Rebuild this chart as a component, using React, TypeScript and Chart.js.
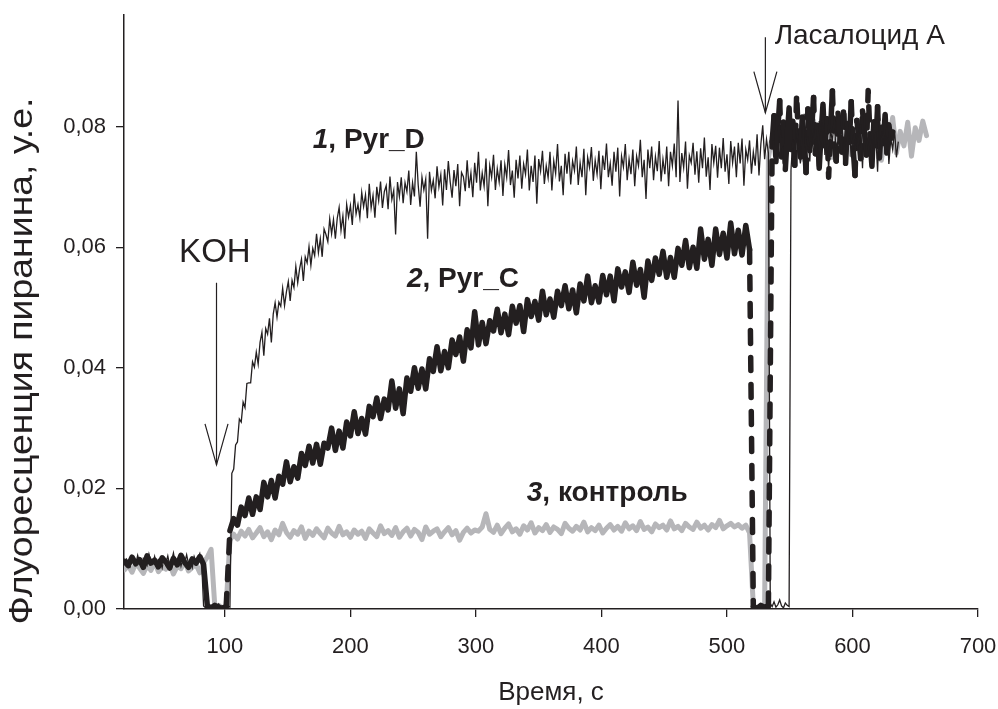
import React, { useEffect, useRef } from 'react';
import { Chart, registerables } from 'chart.js';

Chart.register(...registerables);

// ---------- data (fluorescence in units of 10^-3, time in s) ----------
// Each series is split into segments; a segment starts at STARTS[k] and is sampled every STEPS[k] s.

// 1, Pyr_D (thin line)
const PYR_D_STARTS = [20, 83, 105.5, 534.5, 551];
const PYR_D_STEPS = [1.5, 1.5, 1.5, 1.5, 1.5];
const PYR_D_BASE = [
  7.6, 8.3, 7.9, 7.1, 8.6, 8.0, 7.4, 8.9, 7.7, 6.9, 8.4, 8.1, 7.3, 9.1, 7.8, 7.5, 8.7, 7.0, 8.2, 7.9, 6.8, 8.5, 7.6, 8.8,
  7.2, 8.0, 9.3, 7.4, 7.9, 8.6, 7.1, 8.3, 7.7, 9.0, 7.5, 8.1, 6.9, 8.7, 7.8, 8.4, 9.2, 7.6,
];
const PYR_D_KOH = [0.5, 0.2, 0.7, 0.3, 0.1, 0.6, 0.4, 0.2, 0.8, 0.3, 0.5, 0.1, 0.6, 0.4, 0.3];
const PYR_D_RISE = [
  22.5, 23.2, 27.2, 27.7, 31.5, 31.0, 34.3, 33.4, 37.4, 37.5, 37.5, 41.0, 40.1, 42.6, 40.6, 44.2, 45.9, 42.0, 46.5, 45.6,
  48.2, 44.2, 48.9, 50.8, 48.4, 50.9, 50.2, 53.2, 50.3, 52.6, 54.3, 51.1, 54.5, 53.3, 56.8, 54.1, 56.4, 58.0, 54.4, 58.4,
  57.4, 60.1, 57.0, 59.8, 58.6, 62.2, 59.1, 61.4, 58.4, 63.0, 62.1, 60.9, 64.7, 62.2, 64.6, 61.4, 64.8, 66.6, 62.8, 65.2,
  61.4, 67.1, 65.0, 66.9, 63.7, 68.9, 65.5, 67.1, 64.9, 69.1, 66.7, 68.7, 64.8, 70.5, 66.5, 68.6, 64.9, 70.0, 67.7, 70.9,
  66.5, 69.2, 70.2, 66.3, 71.7, 67.9, 69.4, 62.1, 70.8, 68.4, 71.6, 67.3, 70.7, 69.2, 72.7, 67.0, 70.7, 68.4, 75.8, 70.3,
  66.7, 71.6, 69.5, 71.3, 61.4, 72.5, 69.4, 71.1, 68.1, 73.4, 70.0, 72.0, 66.9, 72.9, 69.5, 74.3, 70.8, 68.2, 72.8, 70.1,
  73.8, 66.8, 72.4, 71.7, 69.3, 74.4, 69.8, 72.3, 68.3, 74.0, 70.7, 75.8, 69.4, 72.3, 70.1, 74.7, 66.8, 73.5, 71.6, 75.3,
  69.5, 73.0, 70.8, 74.4, 68.5, 73.7, 71.6, 76.1, 70.3, 72.7, 68.2, 74.5, 71.4, 75.2, 69.7, 73.8, 72.1, 76.2, 69.4, 73.5,
  70.8, 75.2, 67.2, 74.6, 72.6, 76.0, 70.5, 73.5, 71.5, 75.8, 69.4, 74.3, 72.2, 77.1, 70.9, 73.5, 68.6, 75.5, 72.2, 75.8,
  70.4, 74.3, 72.7, 76.7, 70.3, 74.0, 71.6, 76.3, 68.6, 74.9, 73.2, 76.6, 71.0, 74.4, 72.1, 76.0, 69.6, 75.2, 72.8, 77.2,
  71.6, 73.9, 70.2, 75.8, 72.5, 76.5, 68.4, 75.1, 73.3, 77.1, 71.1, 74.6, 72.1, 76.2, 70.1, 75.1, 73.5, 77.8, 71.6, 74.5,
  68.0, 76.2, 73.1, 76.7, 71.1, 75.0, 72.6, 77.6, 70.9, 74.6, 72.1, 76.7, 70.1, 75.8, 73.5, 77.2, 71.6, 84.3, 70.8, 75.6,
  73.2, 77.5, 69.7, 75.2, 74.0, 77.3, 72.0, 75.9, 70.7, 76.4, 73.1, 78.2, 71.7, 74.9, 69.5, 77.1, 74.0, 76.8, 71.5, 76.5,
  73.1, 78.1, 72.5, 75.4, 70.5, 77.6, 74.0, 76.7, 71.6, 77.3, 73.9, 78.0, 70.2, 76.2, 74.5, 77.7, 72.2, 75.8, 73.5, 78.7,
  71.9, 77.1, 80.2, 74.6, 77.9, 75.6,
];
const PYR_D_LAS = [0.9, 0.4, 1.2, 0.3, 0.7, 1.5, 0.5, 0.2, 1.0, 0.6, 0.4];
const PYR_D_END = [
  72.8, 77.9, 75.1, 80.6, 76.3, 73.9, 79.8, 82.1, 75.6, 78.4, 74.2, 81.3, 77.0, 79.5, 73.4, 80.9, 76.7, 83.2, 75.3, 78.8,
  72.9, 79.6, 77.4, 81.7, 74.8, 78.1, 76.0, 82.5, 73.7, 79.2, 77.6, 80.4, 75.0, 78.6, 74.3, 81.0, 76.9, 79.9, 73.1, 82.8,
  75.8, 78.3, 76.4, 80.2, 74.6, 79.0, 72.5, 81.4, 77.2, 78.9, 75.4, 80.7, 73.8, 78.0, 76.2, 79.4, 74.9, 77.5,
];

// 2, Pyr_C (thick dashed line)
const PYR_C_STARTS = [20, 86, 104, 521, 536];
const PYR_C_STEPS = [3, 3, 3, 3, 1.5];
const PYR_C_BASE = [7.9, 7.2, 8.6, 7.5, 8.2, 6.9, 8.8, 7.6, 8.1, 7.0, 8.5, 7.8, 6.8, 8.4, 7.3, 8.9, 7.7, 6.9, 8.3, 7.6, 8.7, 7.4];
const PYR_C_KOH = [0.5, 0.2, 0.6, 0.3, 0.1, 0.4];
const PYR_C_RISE = [
  13.0,
  15.0, 13.9, 16.9, 15.5, 18.4, 15.7, 18.6, 16.5, 21.0, 18.6, 21.3, 18.4, 22.0, 20.7, 24.4, 21.1, 23.6, 21.7, 25.8, 23.8,
  27.0, 24.2, 27.3, 24.0, 27.5, 26.7, 30.0, 26.3, 29.5, 26.7, 31.0, 28.7, 32.7, 29.1, 31.6, 29.0, 33.6, 31.9, 35.0, 31.6,
  34.8, 33.0, 37.8, 33.3, 36.5, 32.4, 38.3, 36.1, 40.0, 36.6, 39.8, 36.5, 41.5, 39.4, 43.5, 39.5, 42.7, 40.0, 44.6, 42.2,
  45.1, 41.1, 46.3, 43.3, 49.3, 43.8, 47.5, 44.0, 47.8, 46.1, 49.7, 45.8, 48.9, 45.5, 50.2, 47.4, 50.3, 46.0, 51.3, 48.5,
  51.0, 47.9, 52.7, 48.8, 51.4, 48.4, 52.7, 50.3, 53.6, 49.8, 52.9, 49.1, 53.9, 51.1, 55.2, 50.8, 53.6, 50.9, 55.3, 52.1,
  55.2, 51.1, 56.4, 53.4, 55.9, 52.5, 57.5, 53.7, 56.3, 51.7, 57.7, 54.5, 58.2, 55.5, 59.3, 55.0, 58.3, 55.0, 59.8, 57.0,
  61.1, 56.6, 60.0, 56.5, 63.0, 58.0, 61.3, 57.0, 63.0, 58.8, 62.3, 58.2, 64.0, 58.9, 62.8, 58.7, 63.6, 59.6,
];
const PYR_C_LAS = [0.4, 0.1, 0.6, 0.3, 0.5];
const PYR_C_END = [
  77.5, 81.8, 74.2, 79.6, 84.3, 75.0, 80.7, 72.9, 78.4, 83.1, 76.2, 80.9, 73.6, 85.4, 77.8, 74.9, 81.6, 78.3, 72.4, 82.9,
  76.0, 79.7, 84.8, 75.5, 80.2, 73.1, 78.9, 83.7, 76.8, 81.3, 71.6, 79.4, 85.9, 77.1, 74.3, 82.2, 78.6, 75.8, 83.4, 73.9,
  80.5, 77.4, 84.1, 76.5, 71.9, 81.0, 78.1, 74.7, 82.6, 79.2, 75.3, 86.0, 77.9, 73.4, 80.8, 76.9, 83.3, 74.8, 79.9, 77.2,
  82.0, 75.6, 80.3, 78.0, 79.1,
];

// 3, контроль (thick grey line)
const CTRL_STARTS = [20, 92, 104, 521, 533];
const CTRL_STEPS = [3, 3, 3, 3, 3];
const CTRL_BASE = [6.5, 7.2, 6.1, 7.6, 6.8, 5.9, 7.3, 6.4, 7.8, 6.2, 7.0, 6.6, 7.5, 5.8, 7.1, 6.7, 7.9, 6.3, 6.9, 7.4, 6.0, 7.7, 8.6, 9.9];
const CTRL_KOH = [0.3, 0.6, 0.2, 0.5];
const CTRL_MID = [
  11.4,
  12.4, 11.6, 12.9, 12.1, 13.2, 11.8, 12.6, 13.5, 12.0, 12.8, 11.5, 13.1, 12.3, 14.2, 12.7, 11.9, 13.0, 12.4, 13.6, 11.7,
  12.9, 12.2, 13.3, 12.5, 11.8, 13.4, 12.6, 12.1, 13.7, 12.3, 12.8, 11.9,
  13.1, 12.4, 12.9, 11.7, 13.3, 12.6, 12.0, 13.8, 12.5, 13.0, 12.2, 13.5, 11.9, 12.8, 13.4, 12.1, 13.2, 12.7, 11.5, 13.6,
  12.4, 12.9, 13.3, 12.0, 12.8, 13.5, 12.3, 13.0, 11.4, 12.7, 13.4, 12.6, 13.1,
  12.9, 13.6, 15.8, 13.2, 12.7, 13.9, 12.5, 13.4, 14.1, 12.8, 13.3, 12.4, 13.8, 13.1, 14.3, 12.6, 13.5, 13.0, 14.0, 12.7,
  13.6, 13.2, 12.5, 14.2, 13.4, 12.9, 13.7, 13.1, 14.4, 12.8, 13.5, 13.0, 13.9, 12.6,
  13.4, 14.0, 13.1, 13.7, 12.9, 14.3, 13.3, 13.8, 13.0, 14.5, 13.2, 13.6, 12.8, 14.1, 13.5, 13.9, 13.1, 14.6, 13.3, 13.7,
  13.0, 14.2, 13.6, 13.2, 14.4, 13.4, 13.9, 13.1, 14.0, 13.5, 14.7, 13.3, 13.8, 14.2, 13.6, 14.0, 13.4, 13.9, 12.6,
];
const CTRL_LAS = [0.5, 0.2, 0.4, 0.3];
const CTRL_END = [
  74.8, 78.3, 76.1, 79.5, 75.4, 77.9, 80.2, 76.5, 78.8, 74.6, 79.1, 77.3, 81.0, 75.8, 78.4, 76.9, 79.7, 74.9, 77.6, 80.5,
  76.2, 78.9, 75.3, 79.4, 77.0, 81.3, 75.9, 78.1, 76.6, 80.0, 74.4, 78.6, 77.4, 81.5, 75.6, 79.2, 76.8, 80.7, 75.1, 79.8,
  77.7, 80.9, 78.5,
];

// axes
const X_MIN = 19.6;
const X_MAX = 700;
const X_TICKS = [100, 200, 300, 400, 500, 600, 700];
const Y_MIN = 0;
const Y_MAX = 98.5;
const Y_TICKS = [0, 20, 40, 60, 80];
const Y_TICK_LABELS = ['0,00', '0,02', '0,04', '0,06', '0,08'];
const X_TITLE = 'Время, с';
const Y_TITLE = 'Флуоресценция пиранина, у.е.';

// annotations (data coordinates)
const ARROWS = [
  { x: 93.3, top: 54.1, tip: 23.9 },
  { x: 530.6, top: 94.8, tip: 82.3 },
];
const PLAIN_LABELS = [
  { text: 'KOH', x: 92, y: 59.1, size: 33, align: 'center' },
  { text: 'Ласалоцид А', x: 538, y: 95.0, size: 28, align: 'left' },
];
const SERIES_LABELS = [
  { num: '1', rest: ', Pyr_D', x: 170, y: 77.8 },
  { num: '2', rest: ', Pyr_C', x: 245, y: 54.6 },
  { num: '3', rest: ', контроль', x: 340.5, y: 19.25 },
];

// ---------- styles ----------
const INK = '#231f20';
const GREY = '#b6b6b9';
const FONT = "'Liberation Sans', Arial, sans-serif";
const Y_TITLE_STYLE = { x: 23, y: 361, size: 34, stretch: 1.1 };

function toPoints(starts: number[], steps: number[], segments: number[][]) {
  const pts: { x: number; y: number }[] = [];
  segments.forEach((seg, k) => {
    seg.forEach((v, j) => pts.push({ x: starts[k] + steps[k] * j, y: v }));
  });
  return pts;
}

const annotationPlugin = {
  id: 'figureAnnotations',
  afterDatasetsDraw(chart: any) {
    const { ctx } = chart;
    const xs = chart.scales.x;
    const ys = chart.scales.y;
    ctx.save();
    ctx.strokeStyle = INK;
    ctx.lineWidth = 1.2;
    ARROWS.forEach((a) => {
      const px = xs.getPixelForValue(a.x);
      const top = ys.getPixelForValue(a.top);
      const tip = ys.getPixelForValue(a.tip);
      ctx.beginPath();
      ctx.moveTo(px, top);
      ctx.lineTo(px, tip);
      ctx.stroke();
      ctx.beginPath();
      ctx.moveTo(px - 11.5, tip - 41);
      ctx.lineTo(px, tip);
      ctx.lineTo(px + 11.5, tip - 41);
      ctx.stroke();
    });
    ctx.fillStyle = INK;
    ctx.textBaseline = 'middle';
    PLAIN_LABELS.forEach((l) => {
      ctx.font = `${l.size}px ${FONT}`;
      ctx.textAlign = l.align as CanvasTextAlign;
      ctx.fillText(l.text, xs.getPixelForValue(l.x), ys.getPixelForValue(l.y));
    });
    ctx.textAlign = 'left';
    SERIES_LABELS.forEach((l) => {
      let px = xs.getPixelForValue(l.x);
      const py = ys.getPixelForValue(l.y);
      ctx.font = `italic bold 28px ${FONT}`;
      ctx.fillText(l.num, px, py);
      px += ctx.measureText(l.num).width;
      ctx.font = `bold 28px ${FONT}`;
      ctx.fillText(l.rest, px, py);
    });
    // y-axis title
    ctx.translate(Y_TITLE_STYLE.x, Y_TITLE_STYLE.y);
    ctx.rotate(-Math.PI / 2);
    ctx.scale(Y_TITLE_STYLE.stretch, 1);
    ctx.textAlign = 'center';
    ctx.font = `${Y_TITLE_STYLE.size}px ${FONT}`;
    ctx.fillText(Y_TITLE, 0, 0);
    ctx.restore();
  },
};

const steepDash = (ctx: any) => (Math.abs(ctx.p1.y - ctx.p0.y) > 45 ? [13, 14] : undefined);

export default function App() {
  const ref = useRef<HTMLCanvasElement | null>(null);

  useEffect(() => {
    if (!ref.current) return;
    const chart = new Chart(ref.current, {
      type: 'line',
      data: {
        datasets: [
          {
            label: '1, Pyr_D',
            data: toPoints(PYR_D_STARTS, PYR_D_STEPS, [PYR_D_BASE, PYR_D_KOH, PYR_D_RISE, PYR_D_LAS, PYR_D_END]),
            borderColor: INK,
            borderWidth: 1.3,
            pointRadius: 0,
            tension: 0,
            order: 0,
          },
          {
            label: '2, Pyr_C',
            data: toPoints(PYR_C_STARTS, PYR_C_STEPS, [PYR_C_BASE, PYR_C_KOH, PYR_C_RISE, PYR_C_LAS, PYR_C_END]),
            borderColor: INK,
            borderWidth: 5.5,
            borderDash: [],
            segment: { borderDash: steepDash },
            borderCapStyle: 'round',
            borderJoinStyle: 'round',
            pointRadius: 0,
            tension: 0,
            order: 1,
          },
          {
            label: '3, контроль',
            data: toPoints(CTRL_STARTS, CTRL_STEPS, [CTRL_BASE, CTRL_KOH, CTRL_MID, CTRL_LAS, CTRL_END]),
            borderColor: GREY,
            borderWidth: 5,
            borderCapStyle: 'round',
            borderJoinStyle: 'round',
            pointRadius: 0,
            tension: 0,
            order: 2,
          },
        ],
      },
      options: {
        animation: false,
        responsive: false,
        events: [],
        layout: { padding: { left: 0, right: 20, top: 15, bottom: 0 } },
        plugins: { legend: { display: false }, tooltip: { enabled: false } },
        scales: {
          x: {
            type: 'linear',
            min: X_MIN,
            max: X_MAX,
            afterBuildTicks: (s: any) => {
              s.ticks = X_TICKS.map((v) => ({ value: v }));
            },
            afterFit: (s: any) => {
              s.height = 100;
              s.paddingLeft = 0;
              s.paddingRight = 0;
            },
            grid: { display: true, drawOnChartArea: false, drawTicks: true, tickLength: 8, color: INK, lineWidth: 1.3 },
            border: { display: true, color: INK, width: 1.5 },
            ticks: {
              font: { family: FONT, size: 22 },
              color: INK,
              padding: 17,
              maxRotation: 0,
              autoSkip: false,
              callback: (v: any) => String(v),
            },
            title: {
              display: true,
              text: X_TITLE,
              font: { family: FONT, size: 26 },
              color: INK,
              padding: { top: 0, bottom: 1 },
            },
          },
          y: {
            type: 'linear',
            min: Y_MIN,
            max: Y_MAX,
            afterBuildTicks: (s: any) => {
              s.ticks = Y_TICKS.map((v) => ({ value: v }));
            },
            afterFit: (s: any) => {
              s.width = 124;
              s.paddingTop = 0;
              s.paddingBottom = 0;
            },
            grid: { display: true, drawOnChartArea: false, drawTicks: true, tickLength: 8, color: INK, lineWidth: 1.3 },
            border: { display: true, color: INK, width: 1.5 },
            ticks: {
              font: { family: FONT, size: 22 },
              color: INK,
              padding: 10,
              autoSkip: false,
              callback: (v: any) => {
                const i = Y_TICKS.indexOf(Number(v));
                return i >= 0 ? Y_TICK_LABELS[i] : '';
              },
            },
            title: { display: false },
          },
        },
      },
      plugins: [annotationPlugin],
    } as any);
    return () => chart.destroy();
  }, []);

  return (
    <div style={{ position: 'absolute', left: 0, top: 0, width: 998, height: 709, background: '#fff' }}>
      <canvas ref={ref} width={998} height={709} style={{ display: 'block', width: 998, height: 709 }} />
    </div>
  );
}
